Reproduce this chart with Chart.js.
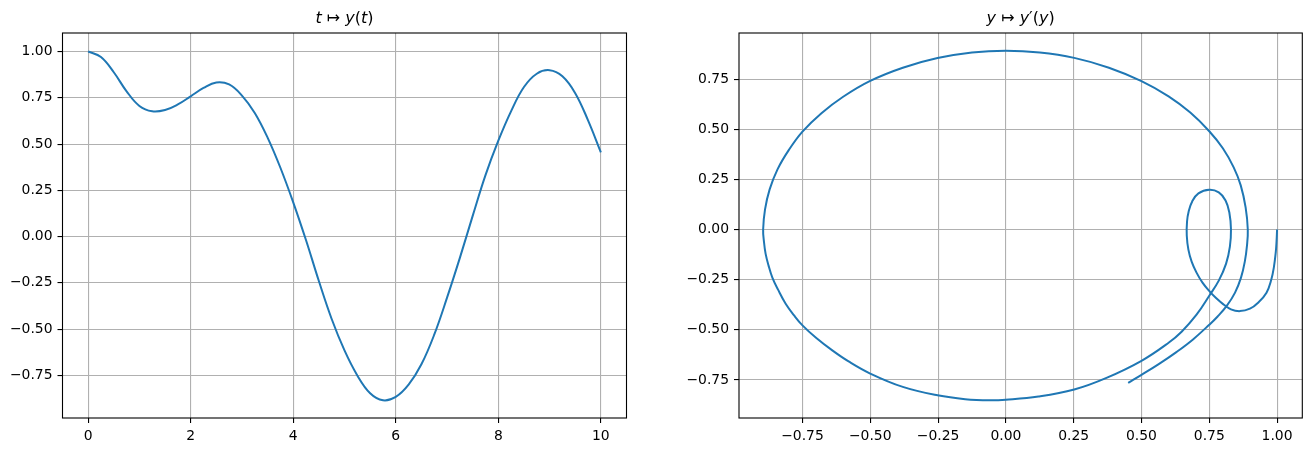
<!DOCTYPE html>
<html>
<head>
<meta charset="utf-8">
<script src="https://cdn.jsdelivr.net/npm/chart.js@4/dist/chart.umd.min.js"></script>
<style>
  html, body { margin: 0; padding: 0; background: #fff; }
  body { width: 1312px; height: 452px; position: relative; overflow: hidden; }
  canvas { position: absolute; top: 0; }
  #left { left: 0; }
  #right { left: 656px; }
</style>
</head>
<body>
<canvas id="left" width="656" height="452"></canvas>
<canvas id="right" width="656" height="452"></canvas>
<script>
// t -> y(t), every 0.25
const tValues = [0, 0.25, 0.5, 0.75, 1.0, 1.25, 1.5, 1.75, 2.0, 2.25, 2.5, 2.75, 3.0, 3.25, 3.5, 3.75,
  4.0, 4.25, 4.5, 4.75, 5.0, 5.25, 5.5, 5.75, 6.0, 6.25, 6.5, 6.75, 7.0, 7.25, 7.5, 7.75,
  8.0, 8.25, 8.5, 8.75, 9.0, 9.25, 9.5, 9.75, 10.0];
const yValues = [1.0, 0.970, 0.888, 0.785, 0.706, 0.677, 0.684, 0.714, 0.758, 0.803, 0.833, 0.822, 0.762, 0.668, 0.535, 0.372,
  0.185, -0.020, -0.240, -0.445, -0.615, -0.750, -0.846, -0.884, -0.866, -0.800, -0.690, -0.530, -0.330, -0.115, 0.112, 0.332,
  0.518, 0.678, 0.808, 0.880, 0.899, 0.866, 0.775, 0.628, 0.455];

// y -> y'(y) in order
const phaseY = [
  1.0, 0.998, 0.995, 0.988, 0.979, 0.961, 0.93, 0.90, 0.863, 0.83, 0.801, 0.775, 0.752, 0.725, 0.703, 0.685, 0.673, 0.667,
  0.668, 0.674, 0.687, 0.71, 0.75, 0.785, 0.81, 0.824, 0.830,
  0.826, 0.812, 0.785, 0.75, 0.703, 0.648, 0.6, 0.5, 0.371, 0.252, 0.12, 0.0, -0.06, -0.15, -0.252, -0.38, -0.502,
  -0.58, -0.64, -0.70, -0.75, -0.78, -0.812, -0.84, -0.861, -0.875, -0.886, -0.892, -0.895,
  -0.888, -0.871, -0.842, -0.8, -0.75, -0.68, -0.6, -0.502, -0.38, -0.252, -0.125, 0.0, 0.125, 0.252, 0.38, 0.5,
  0.6, 0.68, 0.75, 0.8, 0.84, 0.866, 0.884, 0.892,
  0.889, 0.881, 0.867, 0.845, 0.815, 0.78, 0.75, 0.69, 0.63, 0.565, 0.5, 0.451];
const phaseDy = [
  0.0, -0.06, -0.115, -0.19, -0.248, -0.315, -0.365, -0.395, -0.407, -0.398, -0.372, -0.342, -0.31, -0.265, -0.215, -0.16, -0.1, -0.03,
  0.04, 0.09, 0.14, 0.18, 0.198, 0.185, 0.145, 0.085, 0.0,
  -0.085, -0.17, -0.255, -0.33, -0.425, -0.51, -0.565, -0.655, -0.74, -0.798, -0.833, -0.849, -0.852, -0.846, -0.827, -0.785, -0.717,
  -0.658, -0.603, -0.54, -0.478, -0.43, -0.37, -0.30, -0.24, -0.18, -0.12, -0.06, 0.0,
  0.10, 0.20, 0.30, 0.397, 0.488, 0.58, 0.662, 0.74, 0.807, 0.855, 0.883, 0.892, 0.883, 0.856, 0.807, 0.74,
  0.664, 0.583, 0.49, 0.405, 0.31, 0.22, 0.11, 0.0,
  -0.08, -0.16, -0.24, -0.315, -0.38, -0.435, -0.475, -0.548, -0.61, -0.67, -0.725, -0.765];

const leftXTicks = [0, 2, 4, 6, 8, 10];
const leftYTicks = [-0.75, -0.5, -0.25, 0, 0.25, 0.5, 0.75, 1.0];
const rightXTicks = [-0.75, -0.5, -0.25, 0, 0.25, 0.5, 0.75, 1.0];
const rightYTicks = [-0.75, -0.5, -0.25, 0, 0.25, 0.5, 0.75];

const BLUE = '#1f77b4';
const FONT = 'DejaVu Sans';

function fmt(v, digits) {
  const s = Math.abs(v).toFixed(digits);
  return v < 0 ? '\u2212' + s : s;
}

function axis(ticks, min, max, digits, fitFn) {
  return {
    type: 'linear',
    min: min,
    max: max,
    afterBuildTicks: s => { s.ticks = ticks.map(v => ({ value: v })); },
    afterFit: fitFn,
    border: { display: false },
    grid: { color: '#b0b0b0', lineWidth: 1.1, drawTicks: true, tickLength: 5, tickColor: '#000', tickWidth: 1.1 },
    ticks: {
      autoSkip: false, maxRotation: 0, padding: 5, color: '#000',
      font: { family: FONT, size: 13.9 },
      callback: v => fmt(v, digits)
    }
  };
}

// black frame round the plot area, and the mathtext-ish title
function framePlugin(parts) {
  return {
    id: 'frame',
    afterDraw(chart) {
      const { ctx, chartArea: a } = chart;
      ctx.save();
      ctx.strokeStyle = '#000';
      ctx.lineWidth = 1.1;
      ctx.strokeRect(a.left, a.top, a.right - a.left, a.bottom - a.top);

      const size = 16;
      let total = 0;
      parts.forEach(p => {
        ctx.font = (p[1] ? 'italic ' : '') + size + 'px ' + FONT;
        total += ctx.measureText(p[0]).width;
      });
      let x = (a.left + a.right) / 2 - total / 2;
      ctx.fillStyle = '#000';
      ctx.textBaseline = 'alphabetic';
      parts.forEach(p => {
        ctx.font = (p[1] ? 'italic ' : '') + size + 'px ' + FONT;
        ctx.fillText(p[0], x, 23);
        x += ctx.measureText(p[0]).width;
      });
      ctx.restore();
    }
  };
}

function lineSet(xs, ys, opts) {
  return Object.assign({
    data: xs.map((x, i) => ({ x: x, y: ys[i] })),
    showLine: true,
    borderColor: BLUE,
    borderWidth: 2,
    pointRadius: 0,
    fill: false
  }, opts);
}

const baseOptions = {
  responsive: false,
  animation: false,
  plugins: { legend: { display: false }, tooltip: { enabled: false }, title: { display: false } }
};

new Chart(document.getElementById('left'), {
  type: 'scatter',
  data: { datasets: [lineSet(tValues, yValues, { tension: 0.4 })] },
  options: Object.assign({}, baseOptions, {
    layout: { padding: { left: 0, right: 29.5, top: 33, bottom: 0 } },
    scales: {
      x: axis(leftXTicks, -0.5, 10.5, 0, s => { s.height = 34; }),
      y: axis(leftYTicks, -0.98, 1.10, 2, s => { s.width = 62.5; })
    }
  }),
  plugins: [framePlugin([['t', true], [' \u21a6 ', false], ['y', true], ['(', false], ['t', true], [')', false]])]
});

new Chart(document.getElementById('right'), {
  type: 'scatter',
  data: { datasets: [lineSet(phaseY, phaseDy, { tension: 0.4 })] },
  options: Object.assign({}, baseOptions, {
    layout: { padding: { left: 0, right: 9.7, top: 33, bottom: 0 } },
    scales: {
      x: axis(rightXTicks, -0.984, 1.093, 2, s => { s.height = 34; }),
      y: axis(rightYTicks, -0.94, 0.98, 2, s => { s.width = 83; })
    }
  }),
  plugins: [framePlugin([['y', true], [' \u21a6 ', false], ['y', true], ['\u2032(', false], ['y', true], [')', false]])]
});
</script>
</body>
</html>
